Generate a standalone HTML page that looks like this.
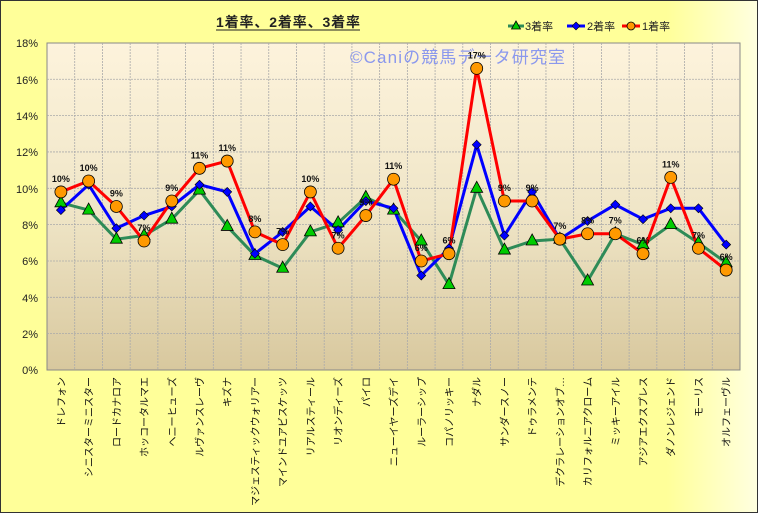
<!DOCTYPE html>
<html><head><meta charset="utf-8"><style>
body{margin:0;width:758px;height:513px;overflow:hidden;background:#fff}
svg{display:block;font-family:"Liberation Sans","Noto Sans CJK JP",sans-serif}
</style></head><body>
<svg id="s" width="758" height="513" xmlns="http://www.w3.org/2000/svg">
<defs>
<linearGradient id="bg" x1="0" y1="0" x2="1" y2="0"><stop offset="0" stop-color="#ffff99"/><stop offset="0.88" stop-color="#ffff99"/><stop offset="1" stop-color="#ffffe0"/></linearGradient>
<linearGradient id="pl" x1="0" y1="0" x2="0" y2="1"><stop offset="0" stop-color="#fdf3dc"/><stop offset="0.5" stop-color="#f0e6c8"/><stop offset="1" stop-color="#d8c89e"/></linearGradient>
</defs>
<rect x="0.5" y="0.5" width="757" height="512" fill="url(#bg)" stroke="#333" stroke-width="1"/>
<text x="216" y="27" font-size="14" font-weight="bold" fill="#222" textLength="144">1着率、2着率、3着率</text>
<line x1="216" y1="30" x2="360" y2="30" stroke="#222"/>
<g font-size="11" fill="#222">
<line x1="508" y1="26" x2="524" y2="26" stroke="#2e8b57" stroke-width="3"/><polygon points="516,21 520.5,29 511.5,29" fill="#0c0" stroke="#000" stroke-width="0.8"/><text x="525" y="30">3着率</text>
<line x1="567" y1="26" x2="585" y2="26" stroke="#00f" stroke-width="3"/><polygon points="576,22 580,26 576,30 572,26" fill="#00f" stroke="#000" stroke-width="0.6"/><text x="587" y="30">2着率</text>
<line x1="622" y1="26" x2="640" y2="26" stroke="#f00" stroke-width="3"/><circle cx="631" cy="26" r="4" fill="#f90" stroke="#000" stroke-width="0.8"/><text x="642" y="30">1着率</text>
</g>
<rect x="47" y="43" width="693" height="327" fill="url(#pl)" stroke="#888"/>
<g id="grid" stroke="#aaa" stroke-width="0.8" stroke-dasharray="2,1"></g>
<g font-size="11" fill="#222" text-anchor="end">
<text x="38" y="47">18%</text><text x="38" y="84">16%</text><text x="38" y="120">14%</text><text x="38" y="156">12%</text><text x="38" y="193">10%</text><text x="38" y="229">8%</text><text x="38" y="265">6%</text><text x="38" y="302">4%</text><text x="38" y="338">2%</text><text x="38" y="374">0%</text>
</g>
<text x="350" y="63" font-size="17" fill="#7f8ff0" opacity="0.9" textLength="215">©Caniの競馬データ研究室</text>
<g id="series"></g>
<g id="cats" font-size="10" fill="#111"></g>
</svg>
<script>
var s=document.getElementById('series'),NS="http://www.w3.org/2000/svg";
function X(i){return 60.9+27.72*i}function Y(v){return 370-18.17*v}
function el(t,a,p){var e=document.createElementNS(NS,t);for(var k in a)e.setAttribute(k,a[k]);(p||s).appendChild(e);return e}
var g=document.getElementById('grid');
for(var i=1;i<25;i++)el('line',{x1:47+27.72*i,y1:43,x2:47+27.72*i,y2:370},g);
for(var v=2;v<18;v+=2)el('line',{x1:47,y1:Y(v),x2:740,y2:Y(v)},g);
var R=[9.8,10.4,9.0,7.1,9.3,11.1,11.5,7.6,6.9,9.8,6.7,8.5,10.5,6.0,6.4,16.6,9.3,9.3,7.2,7.5,7.5,6.4,10.6,6.7,5.5];
var B=[8.8,10.2,7.8,8.5,9.0,10.2,9.8,6.4,7.6,9.0,7.7,9.3,8.9,5.2,6.7,12.4,7.4,9.8,7.2,8.2,9.1,8.3,8.9,8.9,6.9];
var G=[9.2,8.8,7.2,7.4,8.3,9.9,7.9,6.3,5.6,7.6,8.1,9.5,8.8,7.1,4.7,10.0,6.6,7.1,7.2,4.9,7.5,6.9,8.0,7.0,5.9];
var L=["10%","10%","9%","7%","9%","11%","11%","8%","7%","10%","7%","9%","11%","6%","6%","17%","9%","9%","7%","8%","7%","6%","11%","7%","6%"];
function pts(a){return a.map(function(v,i){return X(i)+","+Y(v)}).join(" ")}
el('polyline',{points:pts(G),fill:"none",stroke:"#2e8b57","stroke-width":3});
el('polyline',{points:pts(B),fill:"none",stroke:"#0000ff","stroke-width":3});
el('polyline',{points:pts(R),fill:"none",stroke:"#ff0000","stroke-width":3});
G.forEach(function(v,i){var x=X(i),y=Y(v);el('polygon',{points:x+","+(y-7)+" "+(x+6)+","+(y+4)+" "+(x-6)+","+(y+4),fill:"#00cc00",stroke:"#000","stroke-width":0.8})});
B.forEach(function(v,i){var x=X(i),y=Y(v);el('polygon',{points:x+","+(y-4.5)+" "+(x+4.5)+","+y+" "+x+","+(y+4.5)+" "+(x-4.5)+","+y,fill:"#0000ff",stroke:"#000","stroke-width":0.6})});
R.forEach(function(v,i){var x=X(i),y=Y(v);el('circle',{cx:x,cy:y,r:6,fill:"#ff9900",stroke:"#000","stroke-width":0.8});
var t=el('text',{x:x,y:y-10,"font-size":9,"font-weight":"bold","text-anchor":"middle",fill:"#111"});t.textContent=L[i]});
var C=["ドレフォン","シニスターミニスター","ロードカナロア","ホッコータルマエ","ヘニーヒューズ","ルヴァンスレーヴ","キズナ","マジェスティックウォリアー","マインドユアビスケッツ","リアルスティール","リオンディーズ","パイロ","ニューイヤーズデイ","ルーラーシップ","コパノリッキー","ナダル","サンダースノー","ドゥラメンテ","デクラレーションオブ…","カリフォルニアクローム","ミッキーアイル","アジアエクスプレス","ダノンレジェンド","モーリス","オルフェーヴル"];
var cg=document.getElementById('cats');
C.forEach(function(c,i){var x=X(i)+4,y=377;var t=el('text',{x:0,y:0,"text-anchor":"end",transform:"translate("+x+","+y+") rotate(-90)"},cg);t.textContent=c});
</script>
</body></html>
